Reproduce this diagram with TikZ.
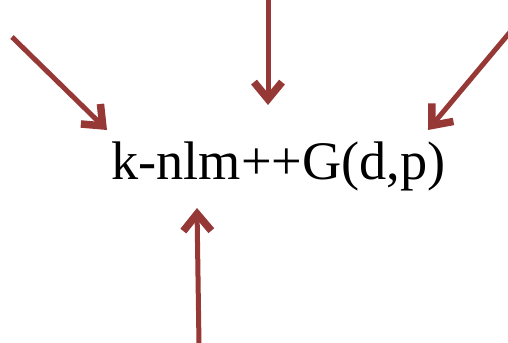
\documentclass[tikz,border=0pt]{standalone}
\usepackage{fontspec}
\setmainfont{Liberation Serif}
\usepackage{tikz}
\usetikzlibrary{arrows.meta}

\definecolor{arrowred}{RGB}{150,56,54}

\begin{document}
\begin{tikzpicture}[
    every node/.style={font=\fontsize{30.9}{36}\selectfont},
    arr/.style={-{Straight Barb[length=3.4mm, width=5.6mm, line width=1.5mm]},
                line width=1mm, draw=arrowred}
]
\useasboundingbox (0,0) rectangle (10.16,6.84);

\node[anchor=base, inner sep=0pt] (model) at (5.57,3.24) {k-nlm++G(d,p)};

% where the arrows come from
\coordinate (srcnw) at (0.24,6.10);
\coordinate (srcn)  at (5.36,6.90);
\coordinate (srcne) at (10.22,6.22);
\coordinate (srcs)  at (3.98,-0.06);

% where they point
\coordinate (tipnw) at (2.14,4.24);
\coordinate (tipn)  at (5.36,4.74);
\coordinate (tipne) at (8.56,4.24);
\coordinate (tips)  at (3.94,2.68);

\draw[arr] (srcnw) -- (tipnw);
\draw[arr] (srcn)  -- (tipn);
\draw[arr] (srcne) -- (tipne);
\draw[arr] (srcs)  -- (tips);
\end{tikzpicture}
\end{document}
